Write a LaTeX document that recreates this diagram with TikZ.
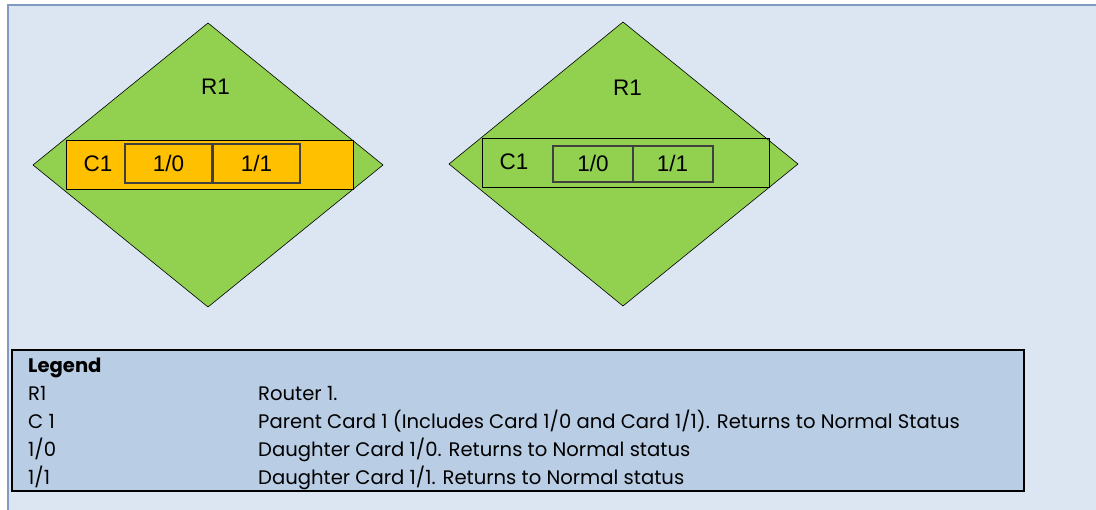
\documentclass[tikz,border=0pt]{standalone}
\usepackage{fontspec}
\setmainfont{Liberation Sans}
\newfontfamily\legendfont{Poppins}
\definecolor{bgblue}{HTML}{DCE6F2}
\definecolor{framecol}{HTML}{7F9CC0}
\definecolor{routergreen}{HTML}{92D050}
\definecolor{cardorange}{HTML}{FFC000}
\definecolor{legendblue}{HTML}{B9CDE5}
\tikzset{
  router/.style={fill=routergreen, draw=black, line width=0.6pt, line join=miter},
  card/.style={draw=black, line width=0.8pt},
  slot/.style={draw=black!75, line width=1.1pt},
  lbl/.style={anchor=base, inner sep=0pt, font=\fontsize{22.5}{26}\selectfont},
  legtxt/.style={anchor=base west, inner sep=0pt, font=\legendfont\fontsize{19.6}{23}\selectfont}
}
\begin{document}
\begin{tikzpicture}[x=1pt,y=-1pt]
        \useasboundingbox (0,0) rectangle (1096,510);
        \fill[white] (0,0) rectangle (1096,510);
        \fill[bgblue] (8,5) rectangle (1096,510);
        \draw[framecol, line width=2pt] (8,510) -- (8,5) -- (1096,5);

        % left router, card failed
        \filldraw[router] (208,23) -- (383,165) -- (208,307) -- (33,165) -- cycle;
        \filldraw[card, fill=cardorange] (66,140) rectangle (353,189);
        \draw[slot] (125,144) rectangle (212,183);
        \draw[slot] (213,144) rectangle (300,183);
        \node[lbl] (r1a) at (215.5,94.5) {R1};
        \node[lbl] (c1a) at (98,171.5) {C1};
        \node[lbl] (d10a) at (168.5,171.5) {1/0};
        \node[lbl] (d11a) at (256.5,171.5) {1/1};

        % right router, back to normal
        \filldraw[router] (623,22) -- (798,164) -- (623,306) -- (449,164) -- cycle;
        \draw[card] (482,138) rectangle (769,187);
        \draw[slot] (553,146) rectangle (633,182);
        \draw[slot] (633,146) rectangle (713,182);
        \node[lbl] (r1b) at (627.5,95.5) {R1};
        \node[lbl] (c1b) at (514,170) {C1};
        \node[lbl] (d10b) at (593,171.5) {1/0};
        \node[lbl] (d11b) at (672.5,171.5) {1/1};

        % legend
        \filldraw[fill=legendblue, draw=black, line width=2pt] (12,350) rectangle (1024,491);
        \node[legtxt, font=\legendfont\bfseries\fontsize{19.6}{23}\selectfont] (leghead) at (28,373) {Legend};
        \node[legtxt] (kr1) at (28,401) {R1};
        \node[legtxt] (kc1) at (28,429) {C 1};
        \node[legtxt] (k10) at (28,457) {1/0};
        \node[legtxt] (k11) at (28,485) {1/1};
        \node[legtxt] (vr1) at (258,401) {Router 1.};
        \node[legtxt] (vc1) at (258,429) {Parent Card 1 (Includes Card 1/0 and Card 1/1). Returns to Normal Status};
        \node[legtxt] (v10) at (258,457) {Daughter Card 1/0. Returns to Normal status};
        \node[legtxt] (v11) at (258,485) {Daughter Card 1/1. Returns to Normal status};
\end{tikzpicture}
\end{document}
